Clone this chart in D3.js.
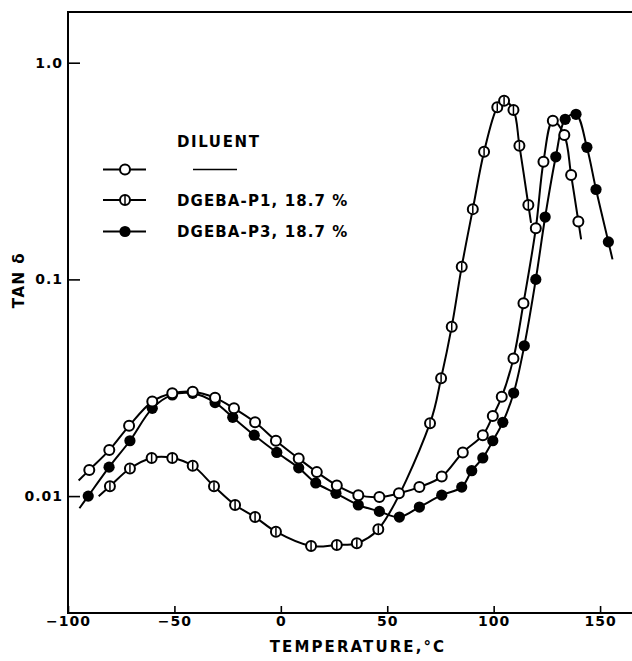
<!DOCTYPE html>
<html>
<head>
<meta charset="utf-8">
<script src="https://cdn.jsdelivr.net/npm/d3@7"></script>
<style>
  body { margin: 0; background: #fff; }
  text { font-family: "DejaVu Sans", sans-serif; font-weight: bold; fill: #000; }
</style>
</head>
<body>
<script>
// temperature (°C) and tan delta
var diluentT = [-90.0, -80.6, -71.3, -60.4, -51.0, -41.4, -30.9, -22.0, -12.1, -2.3, 8.4, 16.9, 26.3, 36.4, 46.3, 55.5, 65.1, 75.6, 85.5, 94.9, 99.6, 103.8, 109.3, 114.0, 119.8, 123.4, 127.8, 133.2, 136.4, 139.8];
var diluentTan = [0.0132, 0.0163, 0.0211, 0.0273, 0.0298, 0.0303, 0.0284, 0.0254, 0.0219, 0.0180, 0.0149, 0.0129, 0.0112, 0.0101, 0.0099, 0.0103, 0.0110, 0.0123, 0.0159, 0.0191, 0.0234, 0.0287, 0.0432, 0.0776, 0.172, 0.349, 0.540, 0.464, 0.303, 0.185];

var p1T = [-80.3, -70.9, -60.7, -51.0, -41.4, -31.4, -21.5, -12.1, -2.3, 14.2, 26.3, 35.7, 45.8, 70.1, 75.3, 80.3, 85.0, 90.2, 95.5, 101.7, 104.9, 109.3, 112.1, 116.3];
var p1Tan = [0.0111, 0.0134, 0.0150, 0.0150, 0.0138, 0.0111, 0.0091, 0.0080, 0.00685, 0.00588, 0.00595, 0.00606, 0.00703, 0.0217, 0.0350, 0.0605, 0.1145, 0.211, 0.388, 0.623, 0.668, 0.605, 0.414, 0.2205];

var p3T = [-90.5, -80.7, -70.9, -60.4, -51.0, -41.4, -30.9, -22.6, -12.5, -1.9, 8.4, 16.4, 25.9, 36.4, 46.3, 55.7, 65.1, 75.6, 85.0, 89.7, 94.9, 99.6, 104.3, 109.4, 114.4, 119.8, 124.2, 129.2, 133.6, 138.7, 143.8, 148.1, 153.9];
var p3Tan = [0.0100, 0.0136, 0.0180, 0.0254, 0.0293, 0.0298, 0.0270, 0.0231, 0.0191, 0.0159, 0.0135, 0.0115, 0.0103, 0.0091, 0.0085, 0.0080, 0.0089, 0.0101, 0.0110, 0.0131, 0.0150, 0.0180, 0.0219, 0.0299, 0.0494, 0.100, 0.194, 0.368, 0.548, 0.578, 0.407, 0.260, 0.149];

var xTicks = [-100, -50, 0, 50, 100, 150];
var yTicks = [1, 0.1, 0.01];
var yTickLabels = ["1.0", "0.1", "0.01"];
var legendLabels = ["DGEBA-P1, 18.7 %", "DGEBA-P3, 18.7 %"];

function main(){

	var w = 632;
	var h = 661;
	var padLeft = 68, padTop = 12, axisY = 613;

	var svg = d3.select("body")
				.append("svg")
				.attr("width", w)
				.attr("height", h);

	var xScale = d3.scaleLinear()
					.domain([-100, 165])
					.range([padLeft, w]);

	var yScale = d3.scaleLog()
					.domain([0.002887, 1.714])
					.range([axisY, padTop]);

	// frame: left, top and bottom
	svg.append("path")
		.attr("d", "M" + w + "," + padTop + "H" + padLeft + "V" + axisY + "H" + w)
		.attr("fill", "none")
		.attr("stroke", "#000")
		.attr("stroke-width", 2);

	var xAxis = d3.axisBottom(xScale)
					.tickValues(xTicks)
					.tickSize(-7)
					.tickPadding(3)
					.tickFormat(function(d){ return d < 0 ? "\u2212" + Math.abs(d) : d; });

	var gx = svg.append("g")
		.attr("transform", "translate(0," + axisY + ")")
		.call(xAxis);
	gx.select(".domain").remove();
	gx.selectAll("line").attr("stroke-width", 1.6);
	gx.selectAll("text").attr("font-size", 14).attr("letter-spacing", 1).attr("font-family", null);

	var yAxis = d3.axisLeft(yScale)
					.tickValues(yTicks)
					.tickSize(-12)
					.tickPadding(5)
					.tickFormat(function(d, i){ return yTickLabels[i]; });

	var gy = svg.append("g")
		.attr("transform", "translate(" + padLeft + ",0)")
		.call(yAxis);
	gy.select(".domain").remove();
	gy.selectAll("line").attr("stroke-width", 1.6);
	gy.selectAll("text").attr("font-size", 14).attr("letter-spacing", 1).attr("font-family", null);

	svg.append("text")
		.attr("x", 358)
		.attr("y", 652)
		.attr("text-anchor", "middle")
		.attr("font-size", 15)
		.attr("letter-spacing", 2.1)
		.text("TEMPERATURE,\u00B0C");

	svg.append("text")
		.attr("transform", "translate(24,280) rotate(-90)")
		.attr("text-anchor", "middle")
		.attr("font-size", 15)
		.attr("letter-spacing", 1.5)
		.text("TAN \u03B4");

	// curves, extended a little past the end markers
	var line = d3.line().curve(d3.curveCatmullRom.alpha(0.5));

	function curvePts(ts, vs){
		var pts = ts.map(function(t, i){ return [xScale(t), yScale(vs[i])]; });
		function ext(a, b, d){
			var dx = a[0] - b[0], dy = a[1] - b[1], L = Math.hypot(dx, dy);
			return [a[0] + dx / L * d, a[1] + dy / L * d];
		}
		var n = pts.length;
		return [ext(pts[0], pts[1], 15)].concat(pts, [ext(pts[n - 1], pts[n - 2], 18)]);
	}

	var series = [
		{ name: "p1", t: p1T, v: p1Tan },
		{ name: "p3", t: p3T, v: p3Tan },
		{ name: "diluent", t: diluentT, v: diluentTan }
	];

	svg.selectAll(".curve")
		.data(series)
		.enter()
		.append("path")
		.attr("class", "curve")
		.attr("d", function(s){ return line(curvePts(s.t, s.v)); })
		.attr("fill", "none")
		.attr("stroke", "#000")
		.attr("stroke-width", 2);

	var r = 5;

	function drawMarker(g, kind, cx, cy){
		if (kind === "p3") {
			g.append("circle").attr("cx", cx).attr("cy", cy).attr("r", r + 0.6)
				.attr("fill", "#000");
		} else {
			g.append("circle").attr("cx", cx).attr("cy", cy).attr("r", r)
				.attr("fill", "#fff").attr("stroke", "#000").attr("stroke-width", 2);
			if (kind === "p1") {
				g.append("line").attr("x1", cx).attr("x2", cx)
					.attr("y1", cy - r + 1).attr("y2", cy + r - 1)
					.attr("stroke", "#000").attr("stroke-width", 1.5);
			}
		}
	}

	var gm = svg.append("g");
	series.forEach(function(s){
		s.t.forEach(function(t, i){
			drawMarker(gm, s.name, xScale(t), yScale(s.v[i]));
		});
	});

	// legend
	var lg = svg.append("g");
	lg.append("text")
		.attr("x", 177)
		.attr("y", 146.5)
		.attr("font-size", 15)
		.attr("letter-spacing", 1.6)
		.text("DILUENT");

	var rows = [
		{ kind: "diluent", y: 169.5 },
		{ kind: "p1", y: 200, label: legendLabels[0] },
		{ kind: "p3", y: 231.5, label: legendLabels[1] }
	];
	rows.forEach(function(row){
		lg.append("line")
			.attr("x1", 103).attr("x2", 146)
			.attr("y1", row.y).attr("y2", row.y)
			.attr("stroke", "#000").attr("stroke-width", 1.8);
		drawMarker(lg, row.kind, 125, row.y);
		if (row.label) {
			lg.append("text")
				.attr("x", 177)
				.attr("y", row.y + 5.5)
				.attr("font-size", 15)
				.attr("letter-spacing", 1.1)
				.text(row.label);
		}
	});
	lg.append("line")
		.attr("x1", 193).attr("x2", 237)
		.attr("y1", 169.5).attr("y2", 169.5)
		.attr("stroke", "#000").attr("stroke-width", 1.6);
}

main();
</script>
</body>
</html>
